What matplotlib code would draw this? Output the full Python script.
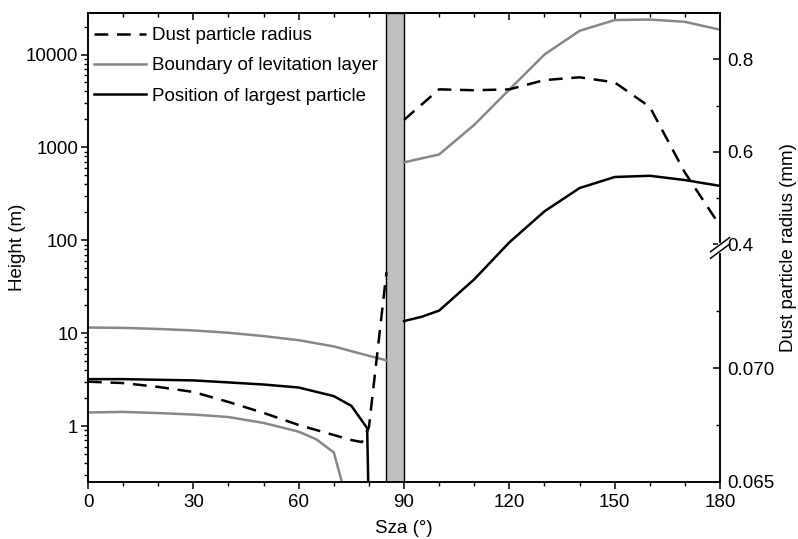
import numpy as np
import matplotlib.pyplot as plt
from matplotlib.ticker import FixedLocator, FuncFormatter, LogLocator, NullFormatter, MultipleLocator

plt.rcParams['font.family'] = ['Liberation Sans', 'DejaVu Sans']
plt.rcParams['axes.linewidth'] = 1.1

# sun zenith angle (deg) and values
band = [85, 90]

sza_bound_top = [0, 10, 20, 30, 40, 50, 60, 70, 75, 80, 85]
bound_top = [11.5, 11.4, 11.1, 10.7, 10.1, 9.3, 8.4, 7.2, 6.4, 5.7, 5.1]
sza_bound_low = [0, 10, 20, 30, 40, 50, 60, 65, 70, 73]
bound_low = [1.40, 1.42, 1.38, 1.33, 1.25, 1.08, 0.87, 0.72, 0.52, 0.2]
sza_bound_right = [90, 100, 110, 120, 130, 140, 150, 160, 170, 180]
bound_right = [690, 840, 1750, 4200, 10000, 18000, 23500, 23800, 22500, 18500]

sza_pos_left = [0, 10, 20, 30, 40, 50, 60, 70, 75, 79.5, 80]
pos_left = [3.2, 3.2, 3.15, 3.1, 2.95, 2.8, 2.6, 2.1, 1.65, 0.95, 0.1]
sza_pos_right = [90, 95, 100, 110, 120, 130, 140, 150, 160, 170, 180]
pos_right = [13.5, 15, 17.5, 38, 95, 205, 365, 480, 495, 445, 385]

sza_rad_left = [0, 10, 20, 30, 40, 50, 60, 70, 75, 78, 80, 85]
rad_left = [0.0694, 0.06934, 0.06917, 0.06895, 0.06851, 0.06803, 0.0675,
            0.06706, 0.06684, 0.06675, 0.0674, 0.0742]
sza_rad_right = [90, 100, 110, 120, 130, 140, 150, 160, 170, 180]
rad_right = [0.669, 0.735, 0.733, 0.735, 0.755, 0.761, 0.750, 0.697, 0.555, 0.44]

height_ticks = [1, 10, 100, 1000, 10000]
rad_major = [0.065, 0.070, 0.4, 0.6, 0.8]
rad_labels = ['0.065', '0.070', '0.4', '0.6', '0.8']
rad_minor = [0.0675, 0.0725, 0.5, 0.7]

# broken right axis: 0.065-0.075 below the break, 0.38-0.9 above
brk_x = [0.065, 0.075, 0.38, 0.9]
brk_y = [0.0, 0.486, 0.487, 1.0]


def fwd(v):
    return np.interp(v, brk_x, brk_y)


def inv(f):
    return np.interp(f, brk_y, brk_x)


grey = '#888888'
fs = 13.5

fig = plt.figure(figsize=(7.98, 5.39), dpi=100)
ax = fig.add_axes([0.1103, 0.1058, 0.7920, 0.8701])
ax2 = ax.twinx()

ax.axvspan(band[0], band[1], facecolor='#c0c0c0', edgecolor='black', lw=1.0, zorder=1)

l2, = ax.plot(sza_bound_top, bound_top, color=grey, lw=1.8)
ax.plot(sza_bound_low, bound_low, color=grey, lw=1.8)
ax.plot(sza_bound_right, bound_right, color=grey, lw=1.8)
l3, = ax.plot(sza_pos_left, pos_left, color='black', lw=1.8)
ax.plot(sza_pos_right, pos_right, color='black', lw=1.8)

ax.set_yscale('log')
ax.set_ylim(0.25, 28000)
ax.set_xlim(0, 180)
ax.yaxis.set_major_locator(FixedLocator(height_ticks))
ax.yaxis.set_major_formatter(FuncFormatter(lambda v, p: '%g' % v))
ax.yaxis.set_minor_locator(LogLocator(base=10, subs=np.arange(2, 10)))
ax.yaxis.set_minor_formatter(NullFormatter())
ax.set_xticks(range(0, 181, 30))
ax.xaxis.set_minor_locator(MultipleLocator(10))
ax.tick_params(which='major', direction='out', length=5, width=1.1, labelsize=fs, pad=4)
ax.tick_params(axis='y', which='major', pad=2)
ax.tick_params(which='minor', direction='out', length=3, width=1.0)
ax.tick_params(right=False, which='both')
ax.set_xlabel('Sza (°)', fontsize=fs, labelpad=6)
ax.set_ylabel('Height (m)', fontsize=fs)
ax.yaxis.set_label_coords(-0.098, 0.5)

top = ax.secondary_xaxis('top')
top.set_xticks(range(0, 181, 30))
top.xaxis.set_minor_locator(MultipleLocator(10))
top.tick_params(which='major', direction='in', length=5, width=1.1, labeltop=False)
top.tick_params(which='minor', direction='in', length=3, width=1.0)

l1, = ax2.plot(sza_rad_left, rad_left, color='black', lw=1.8, dashes=(5.5, 3.5))
ax2.plot(sza_rad_right, rad_right, color='black', lw=1.8, dashes=(5.5, 3.5))
ax2.set_yscale('function', functions=(fwd, inv))
ax2.set_ylim(0.065, 0.9)
ax2.yaxis.set_major_locator(FixedLocator(rad_major))
ax2.yaxis.set_major_formatter(FuncFormatter(lambda v, p: rad_labels[p] if p is not None and p < len(rad_labels) else ''))
ax2.yaxis.set_minor_locator(FixedLocator(rad_minor))
ax2.yaxis.set_minor_formatter(NullFormatter())
ax2.tick_params(which='major', direction='in', length=5, width=1.1, labelsize=fs, pad=5)
ax2.tick_params(which='minor', direction='in', length=3, width=1.0)
ax2.set_ylabel('Dust particle radius (mm)', fontsize=fs, labelpad=4)

# axis break marks
tr = ax2.transAxes
ax2.plot([1.0, 1.0], [0.492, 0.506], transform=tr, color='white', lw=3, clip_on=False, zorder=5)
for dy in (0.506, 0.492):
    ax2.plot([0.985, 1.015], [dy - 0.015, dy + 0.015], transform=tr, color='black',
             lw=1.1, clip_on=False, zorder=6)

ax2.legend(handles=[l1, l2, l3],
           labels=['Dust particle radius', 'Boundary of levitation layer', 'Position of largest particle'],
           loc='upper left', bbox_to_anchor=(0.0, 0.982), frameon=False, fontsize=fs,
           handlelength=2.8, handletextpad=0.3, labelspacing=0.7, borderaxespad=0.2,
           borderpad=0.1)

fig.savefig('out.png', dpi=100)
